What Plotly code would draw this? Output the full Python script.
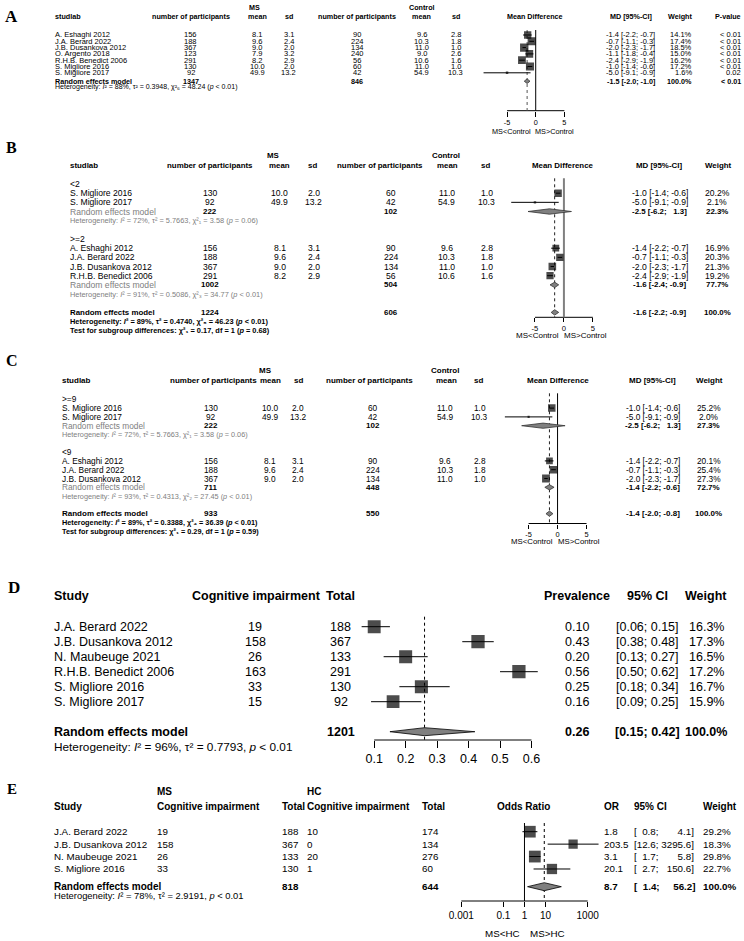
import math
import plotly.graph_objects as go

W, H = 744, 941
FONT = "Liberation Sans"
SERIF = "Liberation Serif"
GRAY = "#808080"
DARK = "#333333"

# ================= Panel A data =================
a_study = ["A. Eshaghi 2012", "J.A. Berard 2022", "J.B. Dusankova 2012", "O. Argento 2018",
           "R.H.B. Benedict 2006", "S. Migliore 2016", "S. Migliore 2017"]
a_ms_n = [156, 188, 367, 123, 291, 130, 92]
a_ms_mean = [8.1, 9.6, 9.0, 7.9, 8.2, 10.0, 49.9]
a_ms_sd = [3.1, 2.4, 2.0, 3.2, 2.9, 2.0, 13.2]
a_c_n = [90, 224, 134, 240, 56, 60, 42]
a_c_mean = [9.6, 10.3, 11.0, 9.0, 10.6, 11.0, 54.9]
a_c_sd = [2.8, 1.8, 1.0, 2.6, 1.6, 1.0, 10.3]
a_md = [-1.4, -0.7, -2.0, -1.1, -2.4, -1.0, -5.0]
a_lo = [-2.2, -1.1, -2.3, -1.8, -2.9, -1.4, -9.1]
a_hi = [-0.7, -0.3, -1.7, -0.4, -1.9, -0.6, -0.9]
a_w = [14.1, 17.4, 18.5, 15.0, 16.2, 17.2, 1.6]
a_p = ["< 0.01", "< 0.01", "< 0.01", "< 0.01", "< 0.01", "< 0.01", "0.02"]
a_re_ms_n = 1347
a_re_c_n = 846
a_re_md, a_re_lo, a_re_hi = -1.5, -2.0, -1.0
a_re_w = 100.0
a_re_p = "< 0.01"
a_het = ["88", "0.3948", "6", "48.24", "< 0.01"]
md_ticks = [-5, 0, 5]
md_ticktext = ["-5", "0", "5"]

# ================= Panel B data =================
b_group_labels = ["<2", ">=2"]
b_group = [0, 0, 1, 1, 1, 1]
b_study = ["S. Migliore 2016", "S. Migliore 2017", "A. Eshaghi 2012", "J.A. Berard 2022",
           "J.B. Dusankova 2012", "R.H.B. Benedict 2006"]
b_ms_n = [130, 92, 156, 188, 367, 291]
b_ms_mean = [10.0, 49.9, 8.1, 9.6, 9.0, 8.2]
b_ms_sd = [2.0, 13.2, 3.1, 2.4, 2.0, 2.9]
b_c_n = [60, 42, 90, 224, 134, 56]
b_c_mean = [11.0, 54.9, 9.6, 10.3, 11.0, 10.6]
b_c_sd = [1.0, 10.3, 2.8, 1.8, 1.0, 1.6]
b_md = [-1.0, -5.0, -1.4, -0.7, -2.0, -2.4]
b_lo = [-1.4, -9.1, -2.2, -1.1, -2.3, -2.9]
b_hi = [-0.6, -0.9, -0.7, -0.3, -1.7, -1.9]
b_w = [20.2, 2.1, 16.9, 20.3, 21.3, 19.2]
b_sub_ms_n = [222, 1002]
b_sub_c_n = [102, 504]
b_sub_md = [-2.5, -1.6]
b_sub_lo = [-6.2, -2.4]
b_sub_hi = [1.3, -0.9]
b_sub_w = [22.3, 77.7]
b_sub_het = [["72", "5.7663", "1", "3.58", "= 0.06"], ["91", "0.5086", "3", "34.77", "< 0.01"]]
b_all_ms_n, b_all_c_n = 1224, 606
b_all_md, b_all_lo, b_all_hi, b_all_w = -1.6, -2.2, -0.9, 100.0
b_all_het = ["89", "0.4740", "5", "46.23", "< 0.01"]
b_test = ["1", "0.17", "1", "= 0.68"]

# ================= Panel C data =================
c_group_labels = [">=9", "<9"]
c_group = [0, 0, 1, 1, 1]
c_study = ["S. Migliore 2016", "S. Migliore 2017", "A. Eshaghi 2012", "J.A. Berard 2022",
           "J.B. Dusankova 2012"]
c_ms_n = [130, 92, 156, 188, 367]
c_ms_mean = [10.0, 49.9, 8.1, 9.6, 9.0]
c_ms_sd = [2.0, 13.2, 3.1, 2.4, 2.0]
c_c_n = [60, 42, 90, 224, 134]
c_c_mean = [11.0, 54.9, 9.6, 10.3, 11.0]
c_c_sd = [1.0, 10.3, 2.8, 1.8, 1.0]
c_md = [-1.0, -5.0, -1.4, -0.7, -2.0]
c_lo = [-1.4, -9.1, -2.2, -1.1, -2.3]
c_hi = [-0.6, -0.9, -0.7, -0.3, -1.7]
c_w = [25.2, 2.0, 20.1, 25.4, 27.3]
c_sub_ms_n = [222, 711]
c_sub_c_n = [102, 448]
c_sub_md = [-2.5, -1.4]
c_sub_lo = [-6.2, -2.2]
c_sub_hi = [1.3, -0.6]
c_sub_w = [27.3, 72.7]
c_sub_het = [["72", "5.7663", "1", "3.58", "= 0.06"], ["93", "0.4313", "2", "27.45", "< 0.01"]]
c_all_ms_n, c_all_c_n = 933, 550
c_all_md, c_all_lo, c_all_hi, c_all_w = -1.4, -2.0, -0.8, 100.0
c_all_het = ["89", "0.3388", "4", "36.39", "< 0.01"]
c_test = ["1", "0.29", "1", "= 0.59"]

# ================= Panel D data =================
d_study = ["J.A. Berard 2022", "J.B. Dusankova 2012", "N. Maubeuge 2021", "R.H.B. Benedict 2006",
           "S. Migliore 2016", "S. Migliore 2017"]
d_events = [19, 158, 26, 163, 33, 15]
d_total = [188, 367, 133, 291, 130, 92]
d_prev = [0.10, 0.43, 0.20, 0.56, 0.25, 0.16]
d_lo = [0.06, 0.38, 0.13, 0.50, 0.18, 0.09]
d_hi = [0.15, 0.48, 0.27, 0.62, 0.34, 0.25]
d_w = [16.3, 17.3, 16.5, 17.2, 16.7, 15.9]
d_re_total = 1201
d_re_prev, d_re_lo, d_re_hi, d_re_w = 0.26, 0.15, 0.42, 100.0
d_het = ["96", "0.7793", "< 0.01"]
d_ticks = [0.1, 0.2, 0.3, 0.4, 0.5, 0.6]
d_ticktext = ["0.1", "0.2", "0.3", "0.4", "0.5", "0.6"]

# ================= Panel E data =================
e_study = ["J.A. Berard 2022", "J.B. Dusankova 2012", "N. Maubeuge 2021", "S. Migliore 2016"]
e_ms_events = [19, 158, 26, 33]
e_ms_total = [188, 367, 133, 130]
e_hc_events = [10, 0, 20, 1]
e_hc_total = [174, 134, 276, 60]
e_or = [1.8, 203.5, 3.1, 20.1]
e_lo = [0.8, 12.6, 1.7, 2.7]
e_hi = [4.1, 3295.6, 5.8, 150.6]
e_w = [29.2, 18.3, 29.8, 22.7]
e_re_ms_total, e_re_hc_total = 818, 644
e_re_or, e_re_lo, e_re_hi, e_re_w = 8.7, 1.4, 56.2, 100.0
e_het = ["78", "2.9191", "< 0.01"]
e_ticks = [0.001, 0.1, 1, 10, 1000]
e_ticktext = ["0.001", "0.1", "1", "10", "1000"]

# ================= helpers =================
ann, traces, axes = [], [], {}
FS = "\u2007"  # figure space for numeric padding
SUB = str.maketrans("0123456789", "₀₁₂₃₄₅₆₇₈₉")


def esc(s):
    return s.replace("&", "&amp;").replace("<", "&lt;").replace(">", "&gt;")


def T(x, y, s, size, anchor="center", bold=False, color="black", family=FONT):
    if bold:
        s = "<b>" + s + "</b>"
    ann.append(dict(x=x / W, y=1 - y / H, xref="paper", yref="paper", text=s, showarrow=False,
                    xanchor=anchor, yanchor="middle", borderpad=0,
                    font=dict(family=family, size=size, color=color)))


def pad(v, width, nd=1):
    s = f"{v:.{nd}f}"
    return FS * max(0, width - len(s)) + s


def md_txt(m, lo, hi):
    return f"{m:.1f} [{pad(lo, 4)}; {pad(hi, 4)}]"


def het_txt(i2, tau2, df, q, p):
    return (f"Heterogeneity: <i>I</i>² = {i2}%, τ² = {tau2}, "
            f"χ²{df.translate(SUB)} = {q} (<i>p</i> {esc(p)})")


def het_short(i2, tau2, p):
    return f"Heterogeneity: <i>I</i>² = {i2}%, τ² = {tau2}, <i>p</i> {esc(p)}"


def test_txt(df, q, d, p):
    return (f"Test for subgroup differences: χ²{df.translate(SUB)} = {q}, "
            f"df = {d} (<i>p</i> {esc(p)})")


def forest_axis(idx, dom, origin_px, unit_px, axis_y, tickvals, ticktext, size, ticklen,
                log=False):
    r0 = (dom[0] - origin_px) / unit_px
    r1 = (dom[1] - origin_px) / unit_px
    axes[f"xaxis{idx}"] = dict(
        domain=[dom[0] / W, dom[1] / W], range=[r0, r1], type="log" if log else "linear",
        anchor="free", position=1 - axis_y / H, showline=False, showgrid=False, zeroline=False,
        ticks="outside", ticklen=ticklen, tickwidth=1, tickcolor="black",
        tickmode="array", tickvals=tickvals, ticktext=ticktext,
        tickfont=dict(family=FONT, size=size, color="black"), fixedrange=True)
    ref = f"x{idx}"
    traces.append(go.Scatter(x=[tickvals[0], tickvals[-1]], y=[axis_y, axis_y], xaxis=ref,
                             yaxis="y", mode="lines", line=dict(color="black", width=1),
                             hoverinfo="skip", showlegend=False))
    return ref


def vline(ref, x, y0, y1, color="black", width=1, dash="solid"):
    traces.append(go.Scatter(x=[x, x], y=[y0, y1], xaxis=ref, yaxis="y", mode="lines",
                             line=dict(color=color, width=width, dash=dash),
                             hoverinfo="skip", showlegend=False))


def ci_lines(ref, lo, hi, ys, width=1):
    xs, yy = [], []
    for l, h, y in zip(lo, hi, ys):
        xs += [l, h, None]
        yy += [y, y, None]
    traces.append(go.Scatter(x=xs, y=yy, xaxis=ref, yaxis="y", mode="lines",
                             line=dict(color="black", width=width),
                             hoverinfo="skip", showlegend=False))


def squares(ref, est, ys, w, k):
    traces.append(go.Scatter(x=est, y=ys, xaxis=ref, yaxis="y", mode="markers",
                             marker=dict(symbol="square", size=[k * math.sqrt(v) for v in w],
                                         color="black", line=dict(width=0)),
                             hoverinfo="skip", showlegend=False))


def diamond(ref, est, lo, hi, y, h, fill=GRAY, edge=DARK):
    traces.append(go.Scatter(x=[lo, est, hi, est, lo], y=[y, y - h, y, y + h, y], xaxis=ref,
                             yaxis="y", mode="lines", fill="toself", fillcolor=fill,
                             line=dict(color=edge, width=0.8), hoverinfo="skip",
                             showlegend=False))


# ================= Panel A =================
fa, fah, fahd = 7.5, 7.0, 7.2
AX = dict(study=49, ms_n=187, ms_mean=254, ms_sd=285.5, c_n=354.5, c_mean=419.5, c_sd=454,
          forest=534, md=630, w=693, p=742)
A_Y0, A_DY, A_REM, A_HET = 35, 6.3, 81.2, 87.4
T(7, 16, "A", 17, bold=True, family=SERIF)
T(251, 7.5, "MS", fahd, bold=True)
T(419.5, 7.5, "Control", fahd, bold=True)
hy = 16.3
T(AX["study"], hy, "studlab", fahd, "left", bold=True)
T(AX["ms_n"], hy, "number of participants", fahd, bold=True)
T(AX["ms_mean"], hy, "mean", fahd, bold=True)
T(AX["ms_sd"], hy, "sd", fahd, bold=True)
T(AX["c_n"], hy, "number of participants", fahd, bold=True)
T(AX["c_mean"], hy, "mean", fahd, bold=True)
T(AX["c_sd"], hy, "sd", fahd, bold=True)
T(AX["forest"], hy, "Mean Difference", fahd, bold=True)
T(AX["md"], hy, "MD [95%-CI]", fahd, bold=True)
T(AX["w"], hy, "Weight", fahd, "right", bold=True)
T(AX["p"], hy, "P-value", fahd, "right", bold=True)
a_ys = []
for i, s in enumerate(a_study):
    y = A_Y0 + A_DY * i
    a_ys.append(y)
    T(AX["study"], y, s, fa, "left")
    T(AX["ms_n"], y, str(a_ms_n[i]), fa)
    T(AX["ms_mean"], y, f"{a_ms_mean[i]:.1f}", fa)
    T(AX["ms_sd"], y, f"{a_ms_sd[i]:.1f}", fa)
    T(AX["c_n"], y, str(a_c_n[i]), fa)
    T(AX["c_mean"], y, f"{a_c_mean[i]:.1f}", fa)
    T(AX["c_sd"], y, f"{a_c_sd[i]:.1f}", fa)
    T(AX["md"], y, md_txt(a_md[i], a_lo[i], a_hi[i]), fa)
    T(AX["w"], y, f"{a_w[i]:.1f}%", fa, "right")
    T(AX["p"], y, esc(a_p[i]), fa, "right")
T(AX["study"], A_REM, "Random effects model", fahd, "left", bold=True)
T(AX["ms_n"], A_REM, str(a_re_ms_n), fahd, bold=True)
T(AX["c_n"], A_REM, str(a_re_c_n), fahd, bold=True)
T(AX["md"], A_REM, md_txt(a_re_md, a_re_lo, a_re_hi), fahd, bold=True)
T(AX["w"], A_REM, f"{a_re_w:.1f}%", fahd, "right", bold=True)
T(AX["p"], A_REM, esc(a_re_p), fahd, "right", bold=True)
T(AX["study"], A_HET, het_txt(*a_het), fah, "left")

A_ZERO, A_UNIT, A_AXY, A_TOP = 534.3, 5.77, 110.7, 30
ra = forest_axis(2, (468, 602), A_ZERO, A_UNIT, A_AXY, md_ticks, md_ticktext, 7.3, 5)
vline(ra, 0, A_TOP, A_AXY, "black", 1)
vline(ra, a_re_md, A_TOP, A_AXY, "#555555", 1, "dot")
ci_lines(ra, a_lo, a_hi, a_ys)
squares(ra, a_md, a_ys, a_w, 1.95)
diamond(ra, a_re_md, a_re_lo, a_re_hi, A_REM, 2.3)
T(A_ZERO - 4, 131, "MS&lt;Control", 7.3, "right")
T(A_ZERO - 2, 131, "MS&gt;Control", 7.3, "left")


# ================= Panels B and C (subgroups) =================
def render_sub(P, labels, grp, study, ms_n, ms_mean, ms_sd, c_n, c_mean, c_sd, md, lo, hi, w,
               s_ms_n, s_c_n, s_md, s_lo, s_hi, s_w, s_het,
               al_ms_n, al_c_n, al_md, al_lo, al_hi, al_w, al_het, test):
    f, fh, fb = P["font"], P["het"], P["hfont"]
    X, HX = P["x"], P["hx"]
    yk = lambda k: P["y0"] + P["dy"] * k
    T(7, P["letter_y"], P["letter"], 16, bold=True, family=SERIF)
    T(HX["ms"], P["h1"], "MS", fb, bold=True)
    T(HX["ctrl"], P["h1"], "Control", fb, bold=True)
    h2 = P["h2"]
    T(HX["study"], h2, "studlab", fb, "left", bold=True)
    T(HX["ms_n"], h2, "number of participants", fb, bold=True)
    T(HX["ms_mean"], h2, "mean", fb, bold=True)
    T(HX["ms_sd"], h2, "sd", fb, bold=True)
    T(HX["c_n"], h2, "number of participants", fb, bold=True)
    T(HX["c_mean"], h2, "mean", fb, bold=True)
    T(HX["c_sd"], h2, "sd", fb, bold=True)
    T(HX["forest"], h2, "Mean Difference", fb, bold=True)
    T(HX["md"], h2, "MD [95%-CI]", fb, bold=True)
    T(HX["w"], h2, "Weight", fb, bold=True)

    st_y, sub_y = [], []
    k = 0
    for g, lab in enumerate(labels):
        T(X["study"], yk(k), esc(lab), f, "left")
        k += 1
        for i in range(len(study)):
            if grp[i] != g:
                continue
            y = yk(k)
            st_y.append(y)
            T(X["study"], y, study[i], f, "left")
            T(X["ms_n"], y, str(ms_n[i]), f)
            T(X["ms_mean"], y, f"{ms_mean[i]:.1f}", f)
            T(X["ms_sd"], y, f"{ms_sd[i]:.1f}", f)
            T(X["c_n"], y, str(c_n[i]), f)
            T(X["c_mean"], y, f"{c_mean[i]:.1f}", f)
            T(X["c_sd"], y, f"{c_sd[i]:.1f}", f)
            T(X["md"], y, md_txt(md[i], lo[i], hi[i]), f)
            T(X["w"], y, f"{w[i]:.1f}%", f)
            k += 1
        y = yk(k)
        sub_y.append(y)
        T(X["study"], y, "Random effects model", f, "left", color=GRAY)
        T(X["ms_n"], y, str(s_ms_n[g]), fb, bold=True)
        T(X["c_n"], y, str(s_c_n[g]), fb, bold=True)
        T(X["md"], y, md_txt(s_md[g], s_lo[g], s_hi[g]), fb, bold=True)
        T(X["w"], y, f"{s_w[g]:.1f}%", fb, bold=True)
        k += 1
        T(X["study"], yk(k), het_txt(*s_het[g]), fh, "left", color=GRAY)
        k += 2
    y_all = yk(k)
    T(X["study"], y_all, "Random effects model", fb, "left", bold=True)
    T(X["ms_n"], y_all, str(al_ms_n), fb, bold=True)
    T(X["c_n"], y_all, str(al_c_n), fb, bold=True)
    T(X["md"], y_all, md_txt(al_md, al_lo, al_hi), fb, bold=True)
    T(X["w"], y_all, f"{al_w:.1f}%", fb, bold=True)
    T(X["study"], yk(k + 1), het_txt(*al_het), fh, "left", bold=True)
    T(X["study"], yk(k + 2), test_txt(*test), fh, "left", bold=True)

    ref = forest_axis(P["axis_idx"], P["dom"], P["zero"], P["unit"], P["axis_y"], md_ticks,
                      md_ticktext, P["tickfont"], P["ticklen"])
    vline(ref, 0, P["top"], P["axis_y"], P["null_color"], P["null_width"])
    vline(ref, al_md, P["top"], P["axis_y"], "#222222", 1, "dot")
    ci_lines(ref, lo, hi, st_y)
    squares(ref, md, st_y, w, P["k"])
    for g in range(len(labels)):
        diamond(ref, s_md[g], s_lo[g], s_hi[g], sub_y[g], P["dh"])
    diamond(ref, al_md, al_lo, al_hi, y_all, P["dh"])
    T(P["zero"] - 4, P["side_y"], "MS&lt;Control", P["tickfont"] + 0.4, "right")
    T(P["zero"] - 1, P["side_y"], "MS&gt;Control", P["tickfont"] + 0.4, "left")


PB = dict(font=8.6, hfont=7.9, het=7.4, letter="B", letter_y=147,
          x=dict(study=64, ms_n=206.5, ms_mean=276.5, ms_sd=311, c_n=389, c_mean=444.5,
                 c_sd=485, md=659, w=717),
          hx=dict(ms=270, ctrl=444, study=64, ms_n=206.5, ms_mean=276.5, ms_sd=310, c_n=378,
                  c_mean=445, c_sd=484, forest=562, md=658.5, w=718),
          h1=155.7, h2=166, y0=184, dy=9.17,
          axis_idx=3, dom=(498, 622), zero=562.7, unit=5.83, axis_y=317.3, ticklen=4,
          tickfont=7.6, top=178.3, null_color=GRAY, null_width=2, k=1.65, dh=2.7,
          side_y=335.5)
render_sub(PB, b_group_labels, b_group, b_study, b_ms_n, b_ms_mean, b_ms_sd, b_c_n, b_c_mean,
           b_c_sd, b_md, b_lo, b_hi, b_w, b_sub_ms_n, b_sub_c_n, b_sub_md, b_sub_lo, b_sub_hi,
           b_sub_w, b_sub_het, b_all_ms_n, b_all_c_n, b_all_md, b_all_lo, b_all_hi, b_all_w,
           b_all_het, b_test)

PC = dict(font=8.3, hfont=8.0, het=7.3, letter="C", letter_y=360,
          x=dict(study=56, ms_n=207, ms_mean=267, ms_sd=295, c_n=370, c_mean=443, c_sd=478,
                 md=652, w=708.5),
          hx=dict(ms=262, ctrl=443, study=56, ms_n=210, ms_mean=267, ms_sd=295, c_n=366.5,
                  c_mean=444, c_sd=477, forest=556.5, md=652, w=709.5),
          h1=370.7, h2=380.7, y0=399.3, dy=8.8,
          axis_idx=4, dom=(494, 618), zero=556.3, unit=5.83, axis_y=523.5, ticklen=4,
          tickfont=7.4, top=393.3, null_color="black", null_width=1, k=1.5, dh=2.6,
          side_y=541.5)
render_sub(PC, c_group_labels, c_group, c_study, c_ms_n, c_ms_mean, c_ms_sd, c_c_n, c_c_mean,
           c_c_sd, c_md, c_lo, c_hi, c_w, c_sub_ms_n, c_sub_c_n, c_sub_md, c_sub_lo, c_sub_hi,
           c_sub_w, c_sub_het, c_all_ms_n, c_all_c_n, c_all_md, c_all_lo, c_all_hi, c_all_w,
           c_all_het, c_test)

# ================= Panel D =================
fd, fdh = 12.5, 11.8
DX = dict(study=48, ev=252, tot=338, prev=576, ci=647, w=706)
T(9, 587, "D", 17, bold=True, family=SERIF)
hy = 596
T(DX["study"], hy, "Study", fd, "left", bold=True)
T(253, hy, "Cognitive impairment", fd, bold=True)
T(337.5, hy, "Total", fd, bold=True)
T(DX["prev"], hy, "Prevalence", fd, bold=True)
T(DX["ci"], hy, "95% CI", fd, bold=True)
T(DX["w"], hy, "Weight", fd, bold=True)
d_ys = []
for i, s in enumerate(d_study):
    y = 626.7 + 15 * i
    d_ys.append(y)
    T(DX["study"], y, s, fd, "left")
    T(DX["ev"], y, str(d_events[i]), fd)
    T(DX["tot"], y, str(d_total[i]), fd)
    T(DX["prev"], y, f"{d_prev[i]:.2f}", fd)
    T(DX["ci"], y, f"[{d_lo[i]:.2f}; {d_hi[i]:.2f}]", fd)
    T(DX["w"], y, f"{d_w[i]:.1f}%", fd)
D_REM, D_HET = 731.7, 747.2
T(DX["study"], D_REM, "Random effects model", fd, "left", bold=True)
T(DX["tot"], D_REM, str(d_re_total), fd, bold=True)
T(DX["prev"], D_REM, f"{d_re_prev:.2f}", fd, bold=True)
T(DX["ci"], D_REM, f"[{d_re_lo:.2f}; {d_re_hi:.2f}]", fd, bold=True)
T(DX["w"], D_REM, f"{d_re_w:.1f}%", fd, bold=True)
T(DX["study"], D_HET, het_short(*d_het), fdh, "left")
D_UNIT = 316.7
D_ORIGIN = 371.7 - 0.1 * D_UNIT
rd = forest_axis(5, (350, 548), D_ORIGIN, D_UNIT, 740, d_ticks, d_ticktext, fd, 7)
vline(rd, d_re_prev, 616.7, 740, "black", 1, "dot")
ci_lines(rd, d_lo, d_hi, d_ys)
squares(rd, d_prev, d_ys, d_w, 3.2)
diamond(rd, d_re_prev, d_re_lo, d_re_hi, D_REM, 4, GRAY, "black")

# ================= Panel E =================
fe, feh = 9.8, 10
EX = dict(study=48, ms_ev=152, ms_tot=278, hc_ev=303, hc_tot=418.7, forest=522.5, orr=602,
          ci=632.7, w=702)
T(7, 789, "E", 15, bold=True, family=SERIF)
T(EX["ms_ev"], 791.7, "MS", feh, "left", bold=True)
T(EX["hc_ev"], 791.7, "HC", feh, "left", bold=True)
hy = 806.7
T(EX["study"], hy, "Study", feh, "left", bold=True)
T(EX["ms_ev"], hy, "Cognitive impairment", feh, "left", bold=True)
T(EX["ms_tot"], hy, "Total", feh, "left", bold=True)
T(EX["hc_ev"], hy, "Cognitive impairment", feh, "left", bold=True)
T(EX["hc_tot"], hy, "Total", feh, "left", bold=True)
T(EX["forest"], hy, "Odds Ratio", feh, bold=True)
T(EX["orr"], hy, "OR", feh, "left", bold=True)
T(EX["ci"], hy, "95% CI", feh, "left", bold=True)
T(EX["w"], hy, "Weight", feh, "left", bold=True)
e_ys = []
for i, s in enumerate(e_study):
    y = 831.7 + 12.43 * i
    e_ys.append(y)
    T(EX["study"], y, s, fe, "left")
    T(EX["ms_ev"], y, str(e_ms_events[i]), fe, "left")
    T(EX["ms_tot"], y, str(e_ms_total[i]), fe, "left")
    T(EX["hc_ev"], y, str(e_hc_events[i]), fe, "left")
    T(EX["hc_tot"], y, str(e_hc_total[i]), fe, "left")
    T(EX["orr"], y, f"{e_or[i]:.1f}", fe, "left")
    T(EX["ci"], y, f"[{pad(e_lo[i], 4)}; {pad(e_hi[i], 6)}]", fe, "left")
    T(EX["w"], y, f"{e_w[i]:.1f}%", fe, "left")
E_REM, E_HET = 886.7, 895.8
T(EX["study"], E_REM, "Random effects model", feh, "left", bold=True)
T(EX["ms_tot"], E_REM, str(e_re_ms_total), fe, "left", bold=True)
T(EX["hc_tot"], E_REM, str(e_re_hc_total), fe, "left", bold=True)
T(EX["orr"], E_REM, f"{e_re_or:.1f}", fe, "left", bold=True)
T(EX["ci"], E_REM, f"[{pad(e_re_lo, 4)}; {pad(e_re_hi, 6)}]", fe, "left", bold=True)
T(EX["w"], E_REM, f"{e_re_w:.1f}%", fe, "left", bold=True)
T(EX["study"], E_HET, het_short(*e_het), 9.4, "left")
E_ONE, E_DEC, E_AXY = 523, 21.2, 901
re_ = forest_axis(6, (452, 608), E_ONE, E_DEC, E_AXY, e_ticks, e_ticktext, 10, 5, log=True)
vline(re_, 1, 823, E_AXY, "black", 1)
vline(re_, e_re_or, 823, E_AXY, "black", 1, "dot")
ci_lines(re_, e_lo, e_hi, e_ys)
squares(re_, e_or, e_ys, e_w, 2.16)
diamond(re_, e_re_or, e_re_lo, e_re_hi, E_REM, 4, GRAY, "black")
T(E_ONE - 4, 933.3, "MS&lt;HC", fe, "right")
T(E_ONE + 5, 933.3, "MS&gt;HC", fe, "left")

# ================= figure =================
layout = dict(width=W, height=H, margin=dict(l=0, r=0, t=0, b=0), autosize=False,
              paper_bgcolor="white", plot_bgcolor="rgba(0,0,0,0)", showlegend=False,
              annotations=ann,
              xaxis=dict(range=[0, W], domain=[0, 1], visible=False, fixedrange=True),
              yaxis=dict(range=[H, 0], domain=[0, 1], visible=False, fixedrange=True))
layout.update(axes)
fig = go.Figure(data=traces, layout=layout)
fig.write_html("out.html", config={"displayModeBar": False, "staticPlot": True},
               post_script="document.body.style.margin='0px';"
                           "document.body.style.padding='0px';"
                           "document.body.style.overflow='hidden';")
